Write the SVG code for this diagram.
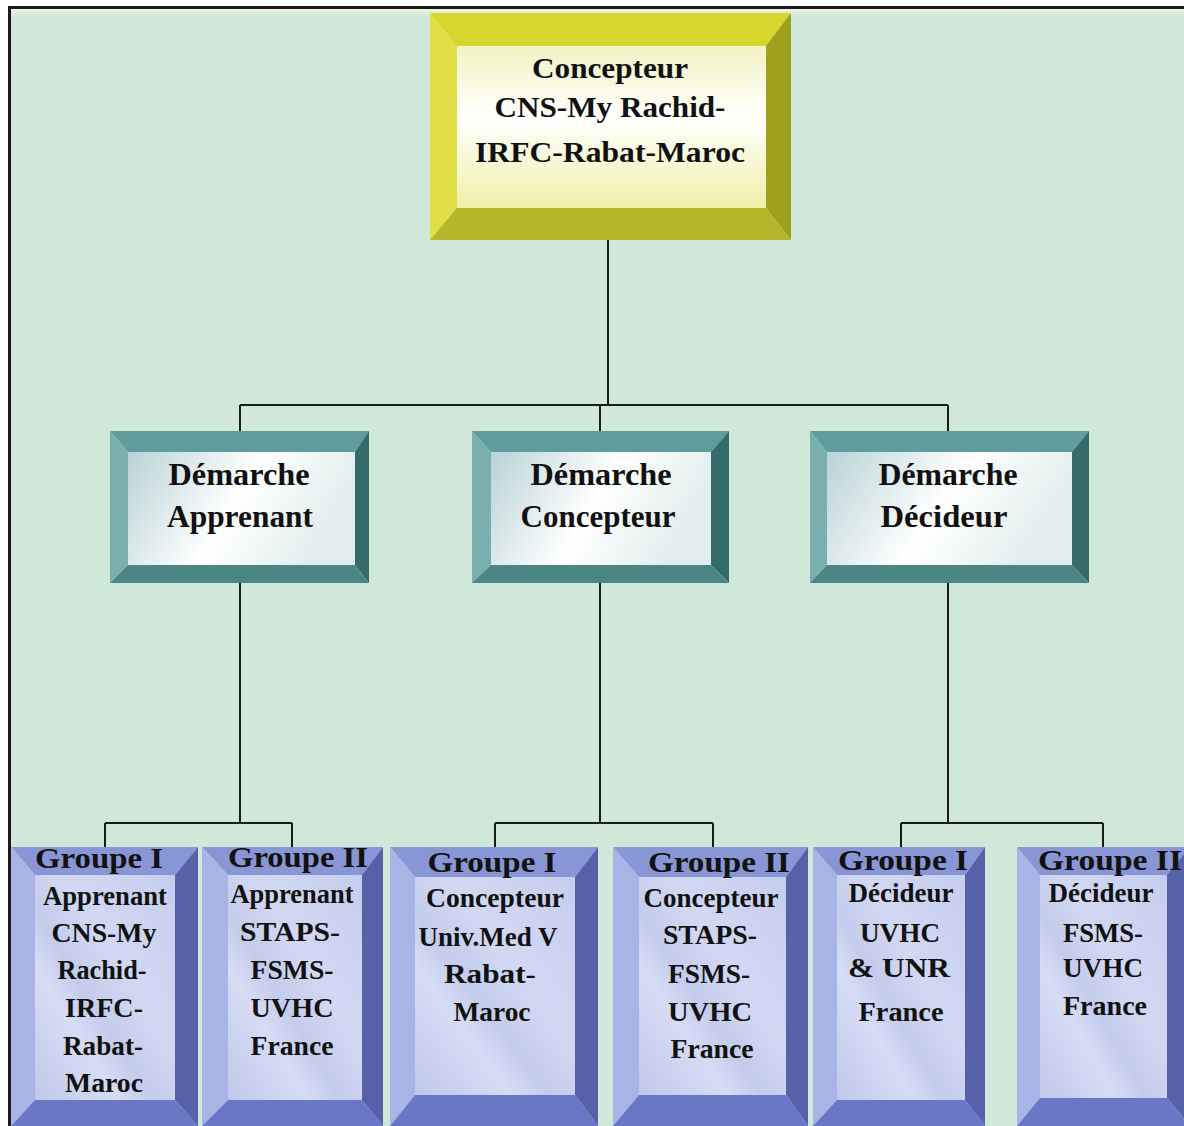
<svg xmlns="http://www.w3.org/2000/svg" width="1184" height="1126" viewBox="0 0 1184 1126">
<defs>
<linearGradient id="gY" x1="0" y1="0" x2="0" y2="1">
<stop offset="0" stop-color="#f2f2c4"/>
<stop offset="0.45" stop-color="#ffffff"/>
<stop offset="1" stop-color="#efefa8"/>
</linearGradient>
<linearGradient id="gT" x1="0" y1="0" x2="1" y2="0.3">
<stop offset="0" stop-color="#b8d2d6"/>
<stop offset="0.55" stop-color="#ffffff"/>
<stop offset="1" stop-color="#e2eded"/>
</linearGradient>
<linearGradient id="gB" x1="0" y1="1" x2="1" y2="0">
<stop offset="0" stop-color="#c0c8ea"/>
<stop offset="0.3" stop-color="#d6dcf4"/>
<stop offset="0.42" stop-color="#c4ccec"/>
<stop offset="0.6" stop-color="#d2d8f2"/>
<stop offset="1" stop-color="#c6ceee"/>
</linearGradient>
<linearGradient id="gTop" x1="0" y1="0" x2="0" y2="1">
<stop offset="0" stop-color="#f6f4e4"/>
<stop offset="1" stop-color="#cfe8d9" stop-opacity="0"/>
</linearGradient>
</defs>
<style>
.yt{fill:#d6d62c}.yl{fill:#e0e046}.yr{fill:#a0a01e}.yb{fill:#b6b62a}
.tt{fill:#5f9d9c}.tl{fill:#79b0ae}.tr{fill:#356c6b}.tb{fill:#4b8584}
.bt{fill:#8896d6}.bl{fill:#a8b4e6}.br{fill:#5661aa}.bb{fill:#6a77c6}
.lbl{font-family:"Liberation Serif","Times New Roman",serif;font-weight:bold;fill:#111;text-anchor:middle}
.h1{font-size:30px}.h2{font-size:32px}.g{font-size:29px}.b{font-size:27px}
.conn{stroke:#1a1a1a;stroke-width:2;fill:none}
</style>
<rect x="0" y="0" width="1184" height="1126" fill="#ffffff"/>
<rect x="9" y="8" width="1175" height="1118" fill="#cfe8d9"/>
<rect x="11" y="9" width="1173" height="10" fill="url(#gTop)"/>
<path d="M9.5 1126 V7.5 H1184" fill="none" stroke="#1a1a1a" stroke-width="3"/>

<g id="connectors">
<path class="conn" d="M608 240 V405"/>
<path class="conn" d="M240 405 H948 M240 405 V431 M600 405 V431 M948 405 V431"/>
<path class="conn" d="M240 583 V823 M105 823 H292 M105 823 V848 M292 823 V848"/>
<path class="conn" d="M600 583 V823 M495 823 H713 M495 823 V848 M713 823 V848"/>
<path class="conn" d="M948 583 V823 M901 823 H1103 M901 823 V848 M1103 823 V848"/>
</g>

<g id="concepteur-top">
<polygon class="yt" points="430,13 791,13 766,46 457,46"/>
<polygon class="yl" points="430,13 457,46 457,208 430,240"/>
<polygon class="yr" points="791,13 791,240 766,208 766,46"/>
<polygon class="yb" points="430,240 457,208 766,208 791,240"/>
<rect x="457" y="46" width="309" height="162" fill="url(#gY)"/>
<text class="lbl h1" x="610" y="78" textLength="156" lengthAdjust="spacingAndGlyphs">Concepteur</text>
<text class="lbl h1" x="610" y="117" textLength="231" lengthAdjust="spacingAndGlyphs">CNS-My Rachid-</text>
<text class="lbl h1" x="610" y="162" textLength="270" lengthAdjust="spacingAndGlyphs">IRFC-Rabat-Maroc</text>
</g>

<g id="demarche-apprenant">
<polygon class="tt" points="110,431 369,431 355,452 128,452"/>
<polygon class="tl" points="110,431 128,452 128,565 110,583"/>
<polygon class="tr" points="369,431 369,583 355,565 355,452"/>
<polygon class="tb" points="110,583 128,565 355,565 369,583"/>
<rect x="128" y="452" width="227" height="113" fill="url(#gT)"/>
<text class="lbl h2" x="239" y="485" textLength="141" lengthAdjust="spacingAndGlyphs">Démarche</text>
<text class="lbl h2" x="240" y="527" textLength="146" lengthAdjust="spacingAndGlyphs">Apprenant</text>
</g>

<g id="demarche-concepteur">
<polygon class="tt" points="472,431 729,431 711,452 491,452"/>
<polygon class="tl" points="472,431 491,452 491,565 472,583"/>
<polygon class="tr" points="729,431 729,583 711,565 711,452"/>
<polygon class="tb" points="472,583 491,565 711,565 729,583"/>
<rect x="491" y="452" width="220" height="113" fill="url(#gT)"/>
<text class="lbl h2" x="601" y="485" textLength="141" lengthAdjust="spacingAndGlyphs">Démarche</text>
<text class="lbl h2" x="598" y="527" textLength="155" lengthAdjust="spacingAndGlyphs">Concepteur</text>
</g>

<g id="demarche-decideur">
<polygon class="tt" points="810,431 1089,431 1072,452 827,452"/>
<polygon class="tl" points="810,431 827,452 827,565 810,583"/>
<polygon class="tr" points="1089,431 1089,583 1072,565 1072,452"/>
<polygon class="tb" points="810,583 827,565 1072,565 1089,583"/>
<rect x="827" y="452" width="245" height="113" fill="url(#gT)"/>
<text class="lbl h2" x="948" y="485" textLength="139" lengthAdjust="spacingAndGlyphs">Démarche</text>
<text class="lbl h2" x="944" y="527" textLength="127" lengthAdjust="spacingAndGlyphs">Décideur</text>
</g>

<g id="groupe1-apprenant">
<polygon class="bt" points="11,847 198,847 175,875 35,875"/>
<polygon class="bl" points="11,847 35,875 35,1100 11,1126"/>
<polygon class="br" points="198,847 198,1126 175,1100 175,875"/>
<polygon class="bb" points="11,1126 35,1100 175,1100 198,1126"/>
<rect x="35" y="875" width="140" height="225" fill="url(#gB)"/>
<text class="lbl g" x="99" y="868" textLength="128" lengthAdjust="spacingAndGlyphs">Groupe I</text>
<text class="lbl b" x="105" y="905" textLength="124" lengthAdjust="spacingAndGlyphs">Apprenant</text>
<text class="lbl b" x="104" y="942" textLength="105" lengthAdjust="spacingAndGlyphs">CNS-My</text>
<text class="lbl b" x="102" y="979" textLength="89" lengthAdjust="spacingAndGlyphs">Rachid-</text>
<text class="lbl b" x="104" y="1017" textLength="78" lengthAdjust="spacingAndGlyphs">IRFC-</text>
<text class="lbl b" x="103" y="1055" textLength="80" lengthAdjust="spacingAndGlyphs">Rabat-</text>
<text class="lbl b" x="104" y="1092" textLength="78" lengthAdjust="spacingAndGlyphs">Maroc</text>
</g>

<g id="groupe2-apprenant">
<polygon class="bt" points="202,847 383,847 362,875 228,875"/>
<polygon class="bl" points="202,847 228,875 228,1100 202,1126"/>
<polygon class="br" points="383,847 383,1126 362,1100 362,875"/>
<polygon class="bb" points="202,1126 228,1100 362,1100 383,1126"/>
<rect x="228" y="875" width="134" height="225" fill="url(#gB)"/>
<text class="lbl g" x="298" y="867" textLength="140" lengthAdjust="spacingAndGlyphs">Groupe II</text>
<text class="lbl b" x="292" y="903" textLength="123" lengthAdjust="spacingAndGlyphs">Apprenant</text>
<text class="lbl b" x="290" y="941" textLength="100" lengthAdjust="spacingAndGlyphs">STAPS-</text>
<text class="lbl b" x="292" y="979" textLength="83" lengthAdjust="spacingAndGlyphs">FSMS-</text>
<text class="lbl b" x="292" y="1017" textLength="83" lengthAdjust="spacingAndGlyphs">UVHC</text>
<text class="lbl b" x="292" y="1055" textLength="83" lengthAdjust="spacingAndGlyphs">France</text>
</g>

<g id="groupe1-concepteur">
<polygon class="bt" points="390,847 598,847 575,877 415,877"/>
<polygon class="bl" points="390,847 415,877 415,1095 390,1126"/>
<polygon class="br" points="598,847 598,1126 575,1095 575,877"/>
<polygon class="bb" points="390,1126 415,1095 575,1095 598,1126"/>
<rect x="415" y="877" width="160" height="218" fill="url(#gB)"/>
<text class="lbl g" x="492" y="872" textLength="129" lengthAdjust="spacingAndGlyphs">Groupe I</text>
<text class="lbl b" x="495" y="907" textLength="138" lengthAdjust="spacingAndGlyphs">Concepteur</text>
<text class="lbl b" x="488" y="946" textLength="139" lengthAdjust="spacingAndGlyphs">Univ.Med V</text>
<text class="lbl b" x="490" y="983" textLength="92" lengthAdjust="spacingAndGlyphs">Rabat-</text>
<text class="lbl b" x="492" y="1021" textLength="77" lengthAdjust="spacingAndGlyphs">Maroc</text>
</g>

<g id="groupe2-concepteur">
<polygon class="bt" points="613,847 808,847 786,877 639,877"/>
<polygon class="bl" points="613,847 639,877 639,1095 613,1126"/>
<polygon class="br" points="808,847 808,1126 786,1095 786,877"/>
<polygon class="bb" points="613,1126 639,1095 786,1095 808,1126"/>
<rect x="639" y="877" width="147" height="218" fill="url(#gB)"/>
<text class="lbl g" x="719" y="872" textLength="142" lengthAdjust="spacingAndGlyphs">Groupe II</text>
<text class="lbl b" x="711" y="907" textLength="135" lengthAdjust="spacingAndGlyphs">Concepteur</text>
<text class="lbl b" x="710" y="944" textLength="94" lengthAdjust="spacingAndGlyphs">STAPS-</text>
<text class="lbl b" x="709" y="983" textLength="82" lengthAdjust="spacingAndGlyphs">FSMS-</text>
<text class="lbl b" x="710" y="1021" textLength="84" lengthAdjust="spacingAndGlyphs">UVHC</text>
<text class="lbl b" x="712" y="1058" textLength="83" lengthAdjust="spacingAndGlyphs">France</text>
</g>

<g id="groupe1-decideur">
<polygon class="bt" points="813,847 985,847 965,875 837,875"/>
<polygon class="bl" points="813,847 837,875 837,1100 813,1126"/>
<polygon class="br" points="985,847 985,1126 965,1100 965,875"/>
<polygon class="bb" points="813,1126 837,1100 965,1100 985,1126"/>
<rect x="837" y="875" width="128" height="225" fill="url(#gB)"/>
<text class="lbl g" x="903" y="870" textLength="130" lengthAdjust="spacingAndGlyphs">Groupe I</text>
<text class="lbl b" x="901" y="902" textLength="105" lengthAdjust="spacingAndGlyphs">Décideur</text>
<text class="lbl b" x="900" y="942" textLength="80" lengthAdjust="spacingAndGlyphs">UVHC</text>
<text class="lbl b" x="899" y="977" textLength="102" lengthAdjust="spacingAndGlyphs">&amp; UNR</text>
<text class="lbl b" x="901" y="1021" textLength="85" lengthAdjust="spacingAndGlyphs">France</text>
</g>

<g id="groupe2-decideur">
<polygon class="bt" points="1017,847 1190,847 1167,875 1040,875"/>
<polygon class="bl" points="1017,847 1040,875 1040,1098 1017,1126"/>
<polygon class="br" points="1190,847 1190,1126 1167,1098 1167,875"/>
<polygon class="bb" points="1017,1126 1040,1098 1167,1098 1190,1126"/>
<rect x="1040" y="875" width="127" height="223" fill="url(#gB)"/>
<text class="lbl g" x="1110" y="870" textLength="144" lengthAdjust="spacingAndGlyphs">Groupe II</text>
<text class="lbl b" x="1101" y="902" textLength="105" lengthAdjust="spacingAndGlyphs">Décideur</text>
<text class="lbl b" x="1103" y="942" textLength="80" lengthAdjust="spacingAndGlyphs">FSMS-</text>
<text class="lbl b" x="1103" y="977" textLength="80" lengthAdjust="spacingAndGlyphs">UVHC</text>
<text class="lbl b" x="1105" y="1015" textLength="84" lengthAdjust="spacingAndGlyphs">France</text>
</g>
</svg>
